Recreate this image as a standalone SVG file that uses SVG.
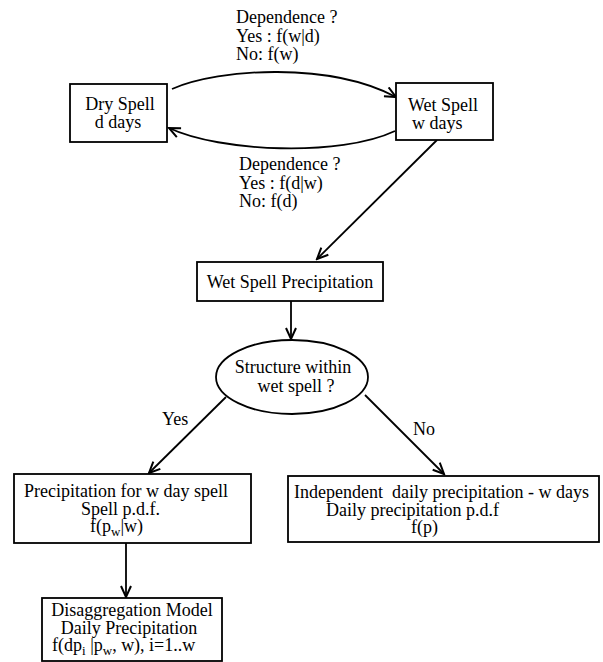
<svg xmlns="http://www.w3.org/2000/svg" width="603" height="662" viewBox="0 0 603 662">
<style>
text{font-family:"Liberation Serif","Times New Roman",serif;font-size:18px;fill:#000}
.sub{font-size:13px}
.box{fill:#fff;stroke:#000;stroke-width:1.8}
.c{fill:none;stroke:#000;stroke-width:1.8}
.m{text-anchor:middle}
</style>
<defs>
<marker id="ah" markerWidth="14" markerHeight="12" refX="12" refY="6" orient="auto" markerUnits="userSpaceOnUse">
<path d="M1,1 L12,6 L1,11" fill="none" stroke="#000" stroke-width="2"/>
</marker>
</defs>
<rect width="603" height="662" fill="#fff"/>
<g id="connectors">
<path class="c" d="M172,89 C220,68 330,62 396,97" marker-end="url(#ah)"/>
<path class="c" d="M395,131 C340,157 220,152 169,128" marker-end="url(#ah)"/>
<path class="c" d="M437,140 L317,259" marker-end="url(#ah)"/>
<path class="c" d="M291,301 L291,339" marker-end="url(#ah)"/>
<path class="c" d="M226,397 L149,473" marker-end="url(#ah)"/>
<path class="c" d="M365,395 L444,474" marker-end="url(#ah)"/>
<path class="c" d="M126,543 L126,597" marker-end="url(#ah)"/>
<text x="236" y="23">Dependence ?</text>
<text x="236" y="42">Yes : f(w|d)</text>
<text x="236" y="60">No: f(w)</text>
<text x="239" y="170">Dependence ?</text>
<text x="239" y="189">Yes : f(d|w)</text>
<text x="239" y="207">No: f(d)</text>
<text x="162" y="425">Yes</text>
<text x="413" y="435">No</text>
</g>
<g id="dry">
<rect class="box" x="70" y="84" width="97" height="58"/>
<text class="m" x="120" y="110">Dry Spell</text>
<text class="m" x="118" y="128">d days</text>
</g>
<g id="wet">
<rect class="box" x="396" y="83" width="97" height="57"/>
<text x="408" y="111">Wet Spell</text>
<text x="412" y="129">w days</text>
</g>
<g id="wsp">
<rect class="box" x="197" y="262" width="186" height="39"/>
<text class="m" x="290" y="288">Wet Spell Precipitation</text>
</g>
<g id="structure">
<ellipse class="box" cx="292" cy="377" rx="76" ry="37"/>
<text class="m" x="293" y="373">Structure within</text>
<text class="m" x="296" y="392">wet spell ?</text>
</g>
<g id="spell">
<rect class="box" x="14" y="474" width="237" height="69"/>
<text x="24" y="497">Precipitation for w day spell</text>
<text x="81" y="515">Spell p.d.f.</text>
<text x="90" y="532">f(p<tspan class="sub" dy="4">w</tspan><tspan dy="-4">|w)</tspan></text>
</g>
<g id="independent">
<rect class="box" x="288" y="476" width="311" height="66"/>
<text x="294" y="498" xml:space="preserve">Independent  daily precipitation - w days</text>
<text x="326" y="516">Daily precipitation p.d.f</text>
<text x="411" y="533">f(p)</text>
</g>
<g id="disagg">
<rect class="box" x="42" y="598" width="180" height="63"/>
<text class="m" x="132" y="616">Disaggregation Model</text>
<text class="m" x="129" y="634">Daily Precipitation</text>
<text x="52" y="651">f(dp<tspan class="sub" dy="4">i</tspan><tspan dy="-4"> |p</tspan><tspan class="sub" dy="4">w</tspan><tspan dy="-4">, w), i=1..w</tspan></text>
</g>
</svg>
